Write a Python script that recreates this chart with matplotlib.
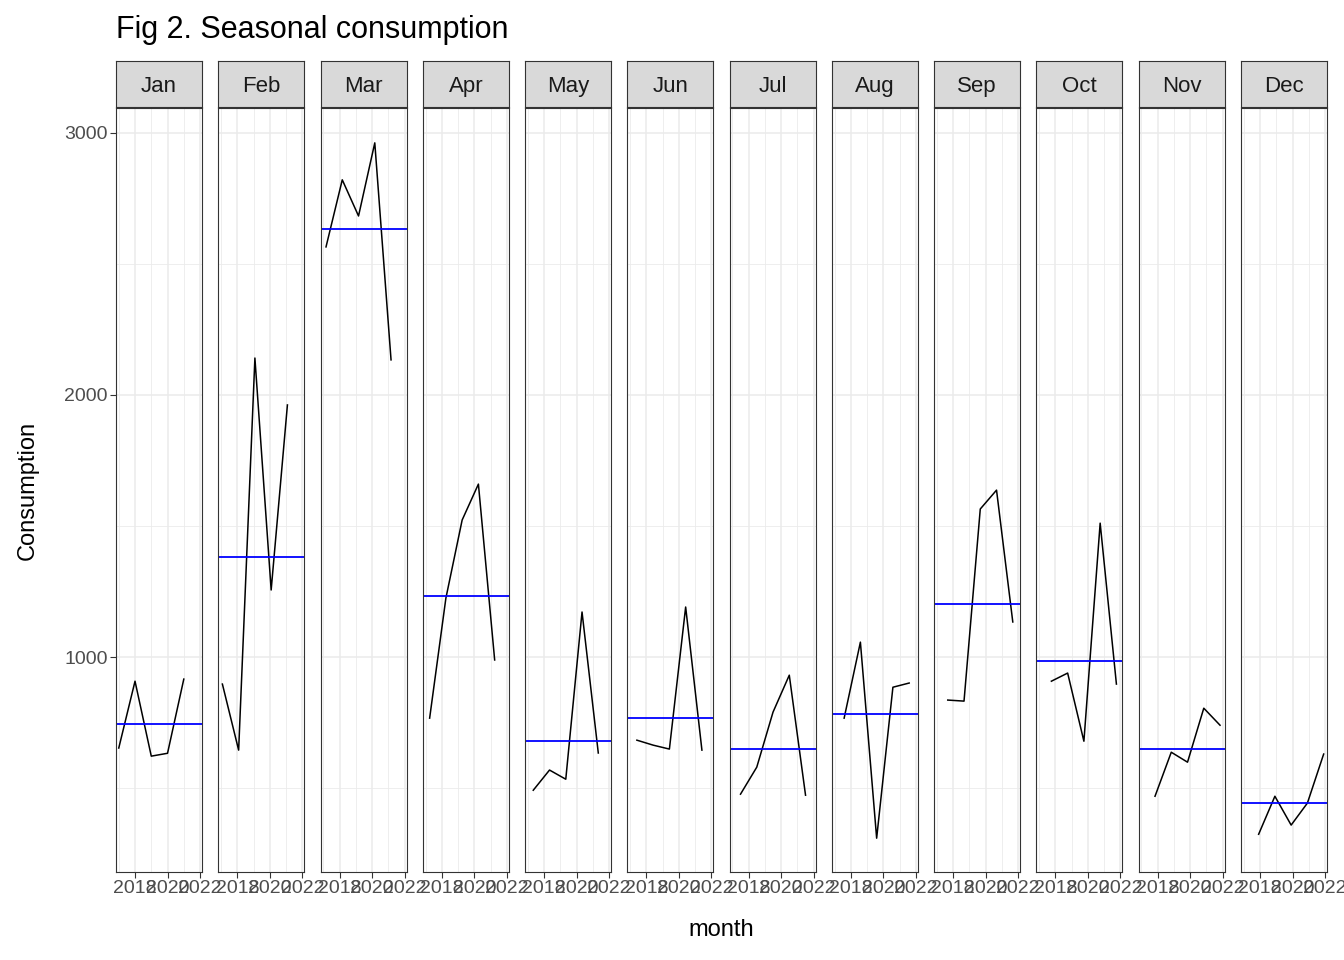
import matplotlib
matplotlib.use("Agg")
import matplotlib.pyplot as plt
import numpy as np

plt.rcParams['font.family'] = ['Liberation Sans', 'DejaVu Sans']

months = ["Jan","Feb","Mar","Apr","May","Jun","Jul","Aug","Sep","Oct","Nov","Dec"]
years = [2017, 2018, 2019, 2020, 2021]
values = {
    "Jan": [653, 908, 622, 633, 916],
    "Feb": [897, 645, 2141, 1256, 1962],
    "Mar": [2565, 2821, 2683, 2962, 2134],
    "Apr": [767, 1225, 1523, 1660, 989],
    "May": [492, 569, 534, 1172, 634],
    "Jun": [683, 664, 649, 1191, 645],
    "Jul": [477, 580, 790, 931, 473],
    "Aug": [767, 1057, 309, 885, 901],
    "Sep": [836, 832, 1565, 1637, 1134],
    "Oct": [908, 939, 679, 1511, 897],
    "Nov": [469, 637, 599, 805, 740],
    "Dec": [324, 469, 359, 443, 630],
}

fig = plt.figure(figsize=(13.44, 9.6), dpi=100)
W, H = 1344, 960
left0, pw, gap = 116, 86, 16.27
top, bot = 108, 872
strip_h = 46
for i, m in enumerate(months):
    x0 = left0 + i * (pw + gap)
    ax = fig.add_axes([x0 / W, 1 - bot / H, pw / W, (bot - top) / H])
    t = np.array(years) + i / 12
    v = np.array(values[m])
    ax.plot(t, v, color="black", lw=1.1)
    ax.axhline(v.mean(), color="blue", lw=1.3)
    ax.set_xlim(2016.83, 2022.12)
    ax.set_ylim(180, 3095)
    ax.set_xticks([2018, 2020, 2022])
    ax.set_xticks([2017, 2019, 2021], minor=True)
    ax.set_xticklabels(["2018", "2020", "2022"], fontsize=14, color="#4d4d4d")
    ax.set_yticks([1000, 2000, 3000])
    ax.set_yticks([500, 1500, 2500], minor=True)
    ax.grid(which="major", color="#ebebeb", lw=1.1)
    ax.grid(which="minor", color="#ebebeb", lw=0.6)
    ax.set_axisbelow(True)
    ax.tick_params(which="minor", length=0)
    ax.tick_params(which="major", length=4, color="#333333", pad=2)
    for s in ax.spines.values():
        s.set_color("#333333")
    if i == 0:
        ax.set_yticklabels(["1000", "2000", "3000"], fontsize=14, color="#4d4d4d")
    else:
        ax.set_yticklabels([])
        ax.tick_params(axis="y", length=0)
    sax = fig.add_axes([x0 / W, 1 - (top - 1) / H, pw / W, strip_h / H])
    sax.set_facecolor("#d9d9d9")
    sax.set_xticks([]); sax.set_yticks([])
    for s in sax.spines.values():
        s.set_color("#333333")
    sax.text(0.5, 0.45, m, ha="center", va="center", fontsize=16, color="#1a1a1a", transform=sax.transAxes)

fig.text(116 / W, 1 - 30 / H, "Fig 2. Seasonal consumption", fontsize=22, va="center", ha="left")
fig.text(721 / W, 1 - 930 / H, "month", fontsize=17, ha="center", va="center")
fig.text(28 / W, 1 - 490 / H, "Consumption", fontsize=17, rotation=90, ha="center", va="center")
fig.savefig("out.png", dpi=100)
